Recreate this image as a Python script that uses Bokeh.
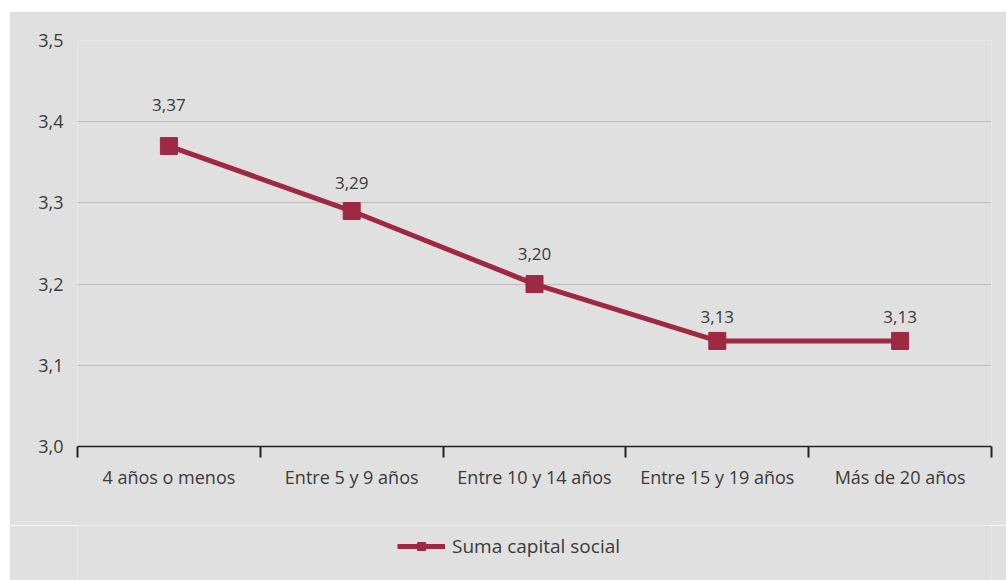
from bokeh.plotting import figure
from bokeh.layouts import column, row
from bokeh.models import (FactorRange, Range1d, CategoricalAxis, FixedTicker, Spacer,
                          Legend, LegendItem, ColumnDataSource, LabelSet)
from bokeh.core.properties import value
from bokeh.embed import file_html
from bokeh.resources import INLINE

categories = ["4 años o menos", "Entre 5 y 9 años", "Entre 10 y 14 años",
              "Entre 15 y 19 años", "Más de 20 años"]
values = [3.37, 3.29, 3.20, 3.13, 3.13]
value_labels = ["3,37", "3,29", "3,20", "3,13", "3,13"]
y_ticks = [3.0, 3.1, 3.2, 3.3, 3.4, 3.5]
y_tick_labels = ["3,0", "3,1", "3,2", "3,3", "3,4", "3,5"]
series_name = "Suma capital social"

label_nudges = [41, 28, 30, 24, 24]

BG = "#e0e0e0"
RED = "#9f2843"
TXT = "#3a3a3a"
FONT = "Open Sans"

p = figure(x_range=FactorRange(*categories, range_padding=0, factor_padding=0),
           y_range=Range1d(3.0, 3.5),
           width=997, height=514,
           min_border_left=68, min_border_right=15, min_border_top=29, min_border_bottom=79,
           x_axis_location=None, y_axis_location="left",
           output_backend="svg", toolbar_location=None,
           background_fill_color=BG, border_fill_color=BG, outline_line_color=None)

# boundary range: one factor per category edge, padded so edges line up with the main range
n_edges = len(categories) + 1
p.extra_x_ranges = {"edges": FactorRange(factors=[f"e{i}" for i in range(n_edges)],
                                         range_padding=-0.9999 / n_edges,
                                         range_padding_units="percent",
                                         factor_padding=0)}

# y axis
p.yaxis.ticker = FixedTicker(ticks=y_ticks)
p.yaxis.major_label_overrides = {t: l for t, l in zip(y_ticks, y_tick_labels)}
p.yaxis.axis_line_color = None
p.yaxis.major_tick_line_color = None
p.yaxis.minor_tick_line_color = None
p.yaxis.major_label_standoff = 8
p.yaxis.major_label_text_font = FONT
p.yaxis.major_label_text_font_size = "18px"
p.yaxis.major_label_text_color = TXT

p.ygrid.grid_line_color = "#999999"
p.ygrid.grid_line_dash = "1 1"
p.ygrid.grid_line_width = 1
p.xgrid.grid_line_color = None

# edge axis (line + tick marks between categories), its labels are not drawn
bax = CategoricalAxis(x_range_name="edges",
                      axis_line_color="#222222", axis_line_width=1.5,
                      major_tick_line_color="#222222", major_tick_line_width=2,
                      major_tick_in=0, major_tick_out=11,
                      major_label_text_color=None,
                      major_label_text_font_size="4px", major_label_standoff=0)
p.add_layout(bax, "below")

cax = CategoricalAxis(axis_line_color=None, major_tick_line_color=None,
                      major_label_text_font=FONT, major_label_text_font_size="18px",
                      major_label_text_color=TXT, major_label_standoff=1)
p.add_layout(cax, "below")

src = ColumnDataSource(dict(x=categories, y=values, lab=value_labels, off=label_nudges))
ln = p.line("x", "y", source=src, line_color=RED, line_width=5)
mk = p.scatter("x", "y", source=src, marker="square", size=17,
               fill_color=RED, line_color=RED)

labels = LabelSet(x="x", y="y", text="lab", source=src, y_offset="off",
                  text_align="center", text_baseline="middle",
                  text_font=value(FONT), text_font_size=value("17px"), text_color=TXT)
p.add_layout(labels)

# legend strip below the chart (same series, drawn outside this strip's view; only the key shows)
pl = figure(x_range=FactorRange(*categories, range_padding=0, factor_padding=0),
            y_range=Range1d(0, 1), width=997, height=55,
            min_border_left=0, min_border_right=0, min_border_top=0, min_border_bottom=0,
            x_axis_location=None, y_axis_location=None,
            output_backend="svg", toolbar_location=None,
            background_fill_color=BG, border_fill_color=BG, outline_line_color=None)
pl.grid.visible = False
lg_line = pl.line("x", "y", source=src, line_color=RED, line_width=5)
lg_mark = pl.scatter("x", "y", source=src, marker="square", size=17,
                     fill_color=RED, line_color=RED)

legend = Legend(items=[LegendItem(label=series_name, renderers=[lg_line, lg_mark])],
                location=(320, 21), orientation="horizontal",
                glyph_width=48, glyph_height=20, padding=0, margin=0,
                label_standoff=7, background_fill_alpha=0, border_line_color=None,
                label_text_font=FONT, label_text_font_size="19px",
                label_text_color=TXT)
pl.add_layout(legend, "center")

layout = column(Spacer(height=11), row(Spacer(width=9), column(p, pl, spacing=0)), spacing=0)
open("out.html", "w").write(file_html(layout, INLINE))
